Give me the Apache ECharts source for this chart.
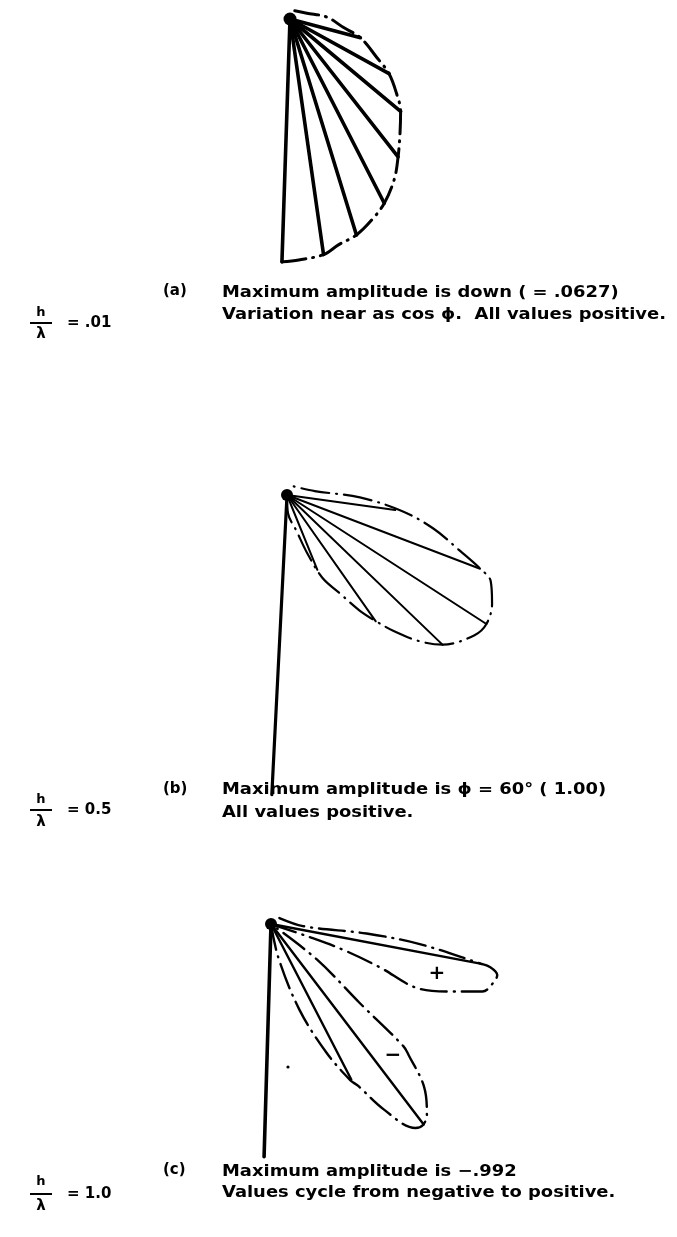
<!DOCTYPE html>
<html>
<head>
<meta charset="utf-8">
<script src="https://cdn.jsdelivr.net/npm/echarts@6/dist/echarts.min.js"></script>
<style>
  html, body { margin: 0; padding: 0; background: #fff; }
  #chart { width: 677px; height: 1237px; }
</style>
</head>
<body>
<div id="chart"></div>
<script>
// Vertical-element radiation patterns for three heights h/λ.
// Angles are degrees from the mast (downward), amplitudes in pattern units.

// (a) h/λ = .01
const RAY_PHI_A = [0, 10, 19, 29, 40, 52, 63, 77];
const RAY_AMP_A = [0.0627, 0.0614, 0.0583, 0.0534, 0.0452, 0.0372, 0.0292, 0.0188];
const ENV_PHI_A = [0, 4, 10, 14, 19, 24, 29, 35, 40, 46, 52, 57, 63, 68, 77, 83, 95, 111, 169];
const ENV_AMP_A = [0.0627, 0.0622, 0.0614, 0.0596, 0.0583, 0.0560, 0.0534, 0.0493, 0.0452, 0.0408,
                   0.0372, 0.0335, 0.0292, 0.0245, 0.0188, 0.0139, 0.0095, 0.0046, 0.0023];

// (b) h/λ = 0.5
const RAY_PHI_B = [85, 72, 60, 49, 38, 25];
const RAY_AMP_B = [0.46, 0.87, 1.00, 0.91, 0.65, 0.34];
const ENV_PHI_B = [0, 6, 18, 22, 26, 31, 35, 38, 41, 45, 49, 56, 60, 65, 70, 72, 75, 80, 85, 91, 101, 145];
const ENV_AMP_B = [0, 0.076, 0.16, 0.257, 0.379, 0.467, 0.573, 0.648, 0.728, 0.829, 0.909, 0.985,
                   1.00, 0.977, 0.931, 0.872, 0.766, 0.632, 0.488, 0.307, 0.118, 0.046];

// (c) h/λ = 1.0  (negative lobe below, positive lobe above)
const RAY_PHI_C = [81, 29, 39];
const RAY_AMP_C = [0.839, -0.689, -0.992];
const ENV_NEG_PHI_C = [0, 14, 20, 25, 28.6, 30, 33, 37, 38.8, 41, 45, 48, 49, 50, 54, 0];
const ENV_NEG_AMP_C = [0, -0.134, -0.354, -0.551, -0.689, -0.724, -0.854, -0.984, -0.992, -0.969,
                       -0.878, -0.752, -0.709, -0.469, -0.228, 0];
const ENV_POS_PHI_C = [0, 73, 72, 70, 68, 71, 74, 77, 79, 80.6, 81, 84, 86, 88, 150];
const ENV_POS_AMP_C = [0, 0.161, 0.303, 0.461, 0.626, 0.752, 0.874, 0.906, 0.913, 0.878, 0.839,
                       0.591, 0.378, 0.126, 0.035];

// Antenna mast length (same units as each panel's amplitude)
const MAST = [0, 1.263, 0.917];

const LETTERS = ['(a)', '(b)', '(c)'];
const RATIOS = ['= .01', '= 0.5', '= 1.0'];
const CAPTION_1 = [
  'Maximum amplitude is down ( = .0627)',
  'Maximum amplitude is ɸ = 60° ( 1.00)',
  'Maximum amplitude is −.992'
];
const CAPTION_2 = [
  'Variation near as cos ɸ.  All values positive.',
  'All values positive.',
  'Values cycle from negative to positive.'
];

// ---- layout ----
const panels = [
  { center: [290, 19],  start: -91.9, pxPerUnit: 243 / 0.0627, max: 0.07, rayW: 3.6, envW: 3.0, mastW: 3.5, dash: [24, 7, 1, 7], blob: 13 },
  { center: [287, 495], start: -92.9, pxPerUnit: 237.5,        max: 1.3,  rayW: 2.0, envW: 2.2, mastW: 3.2, dash: [28, 7, 1, 7], blob: 12 },
  { center: [271, 924], start: -91.7, pxPerUnit: 254,          max: 1.0,  rayW: 2.4, envW: 2.4, mastW: 3.6, dash: [26, 7, 1, 7], blob: 12 }
];
const textY = [
  { letter: 291, l1: 293, l2: 315, h: 313, bar: 323, lam: 334 },
  { letter: 789, l1: 790, l2: 813, h: 800, bar: 810, lam: 822 },
  { letter: 1170, l1: 1172, l2: 1193, h: 1182, bar: 1194, lam: 1206 }
];

const pairs = (phis, amps) => phis.map((p, i) => [Math.abs(amps[i]), p]);

const polar = panels.map(p => ({ center: p.center, radius: p.max * p.pxPerUnit }));
const angleAxis = panels.map((p, i) => ({
  polarIndex: i, type: 'value', min: 0, max: 360, startAngle: p.start, clockwise: false,
  axisLine: { show: false }, axisTick: { show: false }, axisLabel: { show: false }, splitLine: { show: false }
}));
const radiusAxis = panels.map((p, i) => ({
  polarIndex: i, type: 'value', min: 0, max: p.max,
  axisLine: { show: false }, axisTick: { show: false }, axisLabel: { show: false }, splitLine: { show: false }
}));

const series = [];
function ray(pi, amp, phi, width) {
  series.push({
    type: 'line', coordinateSystem: 'polar', polarIndex: pi, symbol: 'none', clip: false, silent: true,
    data: [[0, phi], [Math.abs(amp), phi]],
    lineStyle: { color: '#000', width: width, cap: 'round' }
  });
}
function envelope(pi, phis, amps) {
  const p = panels[pi];
  series.push({
    type: 'line', coordinateSystem: 'polar', polarIndex: pi, symbol: 'none', clip: false, silent: true,
    smooth: 0.35,
    data: pairs(phis, amps),
    lineStyle: { color: '#000', width: p.envW, type: p.dash, cap: 'round', join: 'round' }
  });
}
function origin(pi) {
  series.push({
    type: 'scatter', coordinateSystem: 'polar', polarIndex: pi, silent: true, clip: false,
    symbol: 'circle', symbolSize: panels[pi].blob,
    data: [[0, 0]], itemStyle: { color: '#000', opacity: 1 }
  });
}

RAY_PHI_A.forEach((phi, i) => ray(0, RAY_AMP_A[i], phi, panels[0].rayW));
envelope(0, ENV_PHI_A, ENV_AMP_A);
origin(0);

ray(1, MAST[1], 0, panels[1].mastW);
RAY_PHI_B.forEach((phi, i) => ray(1, RAY_AMP_B[i], phi, panels[1].rayW));
envelope(1, ENV_PHI_B, ENV_AMP_B);
origin(1);

ray(2, MAST[2], 0, panels[2].mastW);
RAY_PHI_C.forEach((phi, i) => ray(2, RAY_AMP_C[i], phi, panels[2].rayW));
envelope(2, ENV_NEG_PHI_C, ENV_NEG_AMP_C);
envelope(2, ENV_POS_PHI_C, ENV_POS_AMP_C);
origin(2);

// ---- text ----
const FONT = '"DejaVu Sans", "Noto Sans", sans-serif';
function txt(x, y, s, font, align, sx) {
  return {
    type: 'text', x: x, y: y, scaleX: sx || 1, silent: true,
    style: { text: s, font: font, fill: '#000', align: align || 'left', verticalAlign: 'middle',
             textAlign: align || 'left', textVerticalAlign: 'middle' }
  };
}
const graphic = [];
textY.forEach((t, i) => {
  graphic.push(txt(41, t.h, 'h', 'bold 13px ' + FONT, 'center'));
  graphic.push({ type: 'line', silent: true, shape: { x1: 30, y1: t.bar, x2: 52, y2: t.bar },
                 style: { stroke: '#000', lineWidth: 2 } });
  graphic.push(txt(41, t.lam, 'λ', 'bold 15px ' + FONT, 'center'));
  graphic.push(txt(67, t.bar, RATIOS[i], 'bold 15px ' + FONT));
  graphic.push(txt(163, t.letter, LETTERS[i], 'bold 15px ' + FONT));
  graphic.push(txt(222, t.l1, CAPTION_1[i], 'bold 16px ' + FONT, 'left', 1.12));
  graphic.push(txt(222, t.l2, CAPTION_2[i], 'bold 16px ' + FONT, 'left', 1.12));
});
// lobe sign markers in (c)
graphic.push(txt(437, 974, '+', 'bold 20px ' + FONT, 'center'));
graphic.push(txt(393, 1056, '−', 'bold 20px ' + FONT, 'center'));
graphic.push({ type: 'circle', silent: true, shape: { cx: 288, cy: 1067, r: 1.6 }, style: { fill: '#000' } });

const chart = echarts.init(document.getElementById('chart'));
chart.setOption({
  animation: false,
  backgroundColor: '#fff',
  polar: polar,
  angleAxis: angleAxis,
  radiusAxis: radiusAxis,
  series: series,
  graphic: graphic
});
</script>
</body>
</html>
